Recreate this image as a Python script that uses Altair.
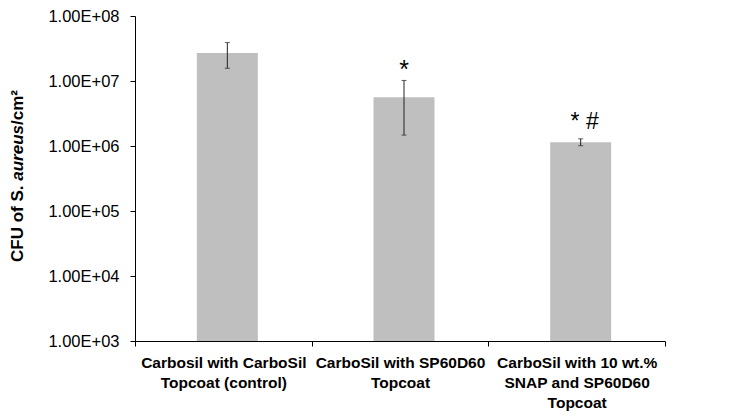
import altair as alt
import pandas as pd

categories = [
    "Carbosil with CarboSil|Topcoat (control)",
    "CarboSil with SP60D60|Topcoat",
    "CarboSil with 10 wt.%|SNAP and SP60D60|Topcoat",
]
means = [2.7e7, 5.6e6, 1.14e6]
upper = [3.9e7, 1.02e7, 1.29e6]
lower = [1.57e7, 1.47e6, 1.01e6]
marks = ["", "*", "* #"]
y_ticks = [1e3, 1e4, 1e5, 1e6, 1e7, 1e8]
title_parts = ["CFU of S. ", "aureus", "/cm²"]

df = pd.DataFrame({
    "cat": categories, "mean": means, "upper": upper, "lower": lower,
    "mark": marks, "idx": [0, 1, 2], "base": [1e3] * 3,
})

W, H = 530, 325
FONT = "Liberation Sans"

x_enc = alt.X("cat:N", sort=categories, scale=alt.Scale(paddingInner=0, paddingOuter=0),
              axis=alt.Axis(title=None, labelAngle=0, labelExpr="split(datum.label, '|')",
                            labelFont=FONT, labelFontSize=15.5, labelFontWeight="bold",
                            labelColor="#000", labelLineHeight=20, labelPadding=9,
                            labelLimit=300, tickBand="extent", tickSize=5,
                            tickColor="#000", domainColor="#000", labelBaseline="top"))
y_scale = alt.Scale(type="log", domain=[1e3, 1e8])
y_axis = alt.Axis(title=None, values=y_ticks,
                  labelExpr="'1.00E+0' + round(log(datum.value)/LN10)",
                  labelFont=FONT, labelFontSize=16.5, labelColor="#000",
                  tickSize=5, labelPadding=11, tickColor="#000", domainColor="#000",
                  grid=False)

base = alt.Chart(df)
bars = base.mark_bar(size=61, color="#bfbfbf", xOffset=4).encode(
    x=x_enc,
    y=alt.Y("mean:Q", scale=y_scale, axis=y_axis),
    y2="base:Q",
)
rules = base.mark_rule(color="#222", strokeWidth=1, xOffset=4).encode(
    x=alt.X("cat:N", sort=categories), y="lower:Q", y2="upper:Q")
caps_u = base.mark_tick(color="#222", size=5, thickness=1, xOffset=4).encode(
    x=alt.X("cat:N", sort=categories), y="upper:Q")
caps_l = base.mark_tick(color="#222", size=5, thickness=1, xOffset=4).encode(
    x=alt.X("cat:N", sort=categories), y="lower:Q")
txt2 = base.transform_filter("datum.idx == 1").mark_text(
    font=FONT, fontSize=25, baseline="alphabetic", dy=-2, dx=4, color="#000").encode(
    x=alt.X("cat:N", sort=categories), y="upper:Q", text="mark:N")
txt3 = base.transform_filter("datum.idx == 2").mark_text(
    font=FONT, fontSize=23, baseline="alphabetic", dy=-10, dx=8, color="#000").encode(
    x=alt.X("cat:N", sort=categories), y="upper:Q", text="mark:N")

tdf = pd.DataFrame({"t": title_parts})
fs = 17
w1 = 4.778 * fs
w2 = 3.279 * fs
ystart = 246
t_layers = []
for part, style, yy in [
        (title_parts[0], "normal", ystart),
        (title_parts[1], "italic", ystart - w1),
        (title_parts[2], "normal", ystart - w1 - w2)]:
    t_layers.append(
        alt.Chart(tdf).transform_filter(f"datum.t == '{part}'").mark_text(
            angle=270, align="left", baseline="alphabetic", font=FONT, fontSize=fs,
            fontWeight="bold", fontStyle=style, color="#000").encode(
            x=alt.value(-112), y=alt.value(yy), text="t:N"))

chart = alt.layer(bars, rules, caps_u, caps_l, txt2, txt3, *t_layers).properties(
    width=W, height=H,
    autosize=alt.AutoSizeParams(type="none"),
    padding={"left": 127, "top": 8, "right": 60, "bottom": 74},
).configure_view(stroke=None)

chart.save("out.html", embed_options={"renderer": "svg", "actions": False})
